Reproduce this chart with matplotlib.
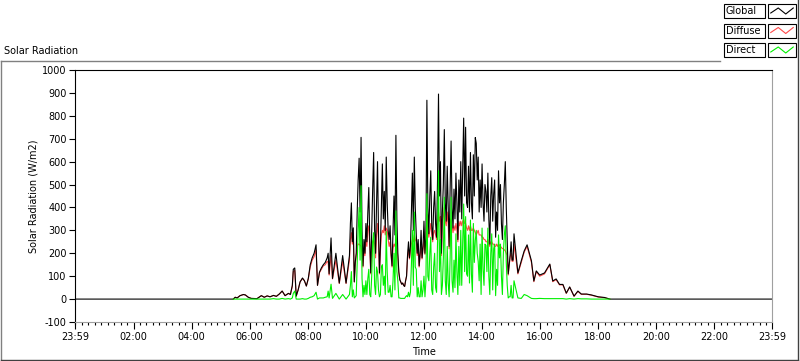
import matplotlib.pyplot as plt
from matplotlib.patches import Rectangle
from matplotlib.ticker import FixedLocator, MultipleLocator
from matplotlib.lines import Line2D

plt.rcParams["axes.unicode_minus"] = False

# --- readings taken from the chart (W/m2), split in three parts of the day ---
# night + morning (direct sensor only logs during the day -> None at night)
morning_t = ["00:00", "05:26", "05:30", "05:34", "05:40", "05:47", "05:51", "05:57", "06:03", "06:15",
             "06:24", "06:30", "06:36", "06:42", "06:49", "06:55", "07:01", "07:07", "07:13", "07:20",
             "07:24", "07:28", "07:30", "07:33", "07:36", "07:40", "07:44", "07:49", "07:53", "07:57",
             "08:01", "08:05", "08:09", "08:13", "08:17", "08:20", "08:24", "08:28", "08:32", "08:36",
             "08:40", "08:42", "08:44", "08:48", "08:51", "08:58", "09:05", "09:12", "09:19"]
morning_global = [0, 0, 8, 5, 15, 20, 18, 8, 3, 2,
                  15, 8, 14, 10, 16, 12, 22, 35, 15, 25,
                  20, 60, 130, 136, 13, 40, 75, 92, 80, 57,
                  90, 150, 180, 200, 237, 60, 117, 136, 150, 160,
                  180, 200, 110, 267, 90, 200, 70, 190, 70]
morning_diffuse = [None, 0, 8, 5, 15, 20, 18, 8, 3, 2,
                   15, 8, 14, 10, 16, 12, 22, 35, 15, 25,
                   20, 55, 120, 125, 13, 40, 75, 90, 80, 57,
                   88, 140, 170, 185, 215, 60, 115, 130, 145, 150,
                   165, 160, 105, 190, 88, 170, 68, 165, 68]
morning_direct = [None, 0, 0, 0, 0, 0, 0, 0, 0, 0,
                  0, 0, 0, 0, 2, 0, 0, 3, 0, 2,
                  0, 5, 25, 35, 0, 0, 0, 2, 0, 0,
                  3, 8, 10, 15, 30, 0, 5, 5, 5, 8,
                  10, 35, 5, 65, 3, 25, 0, 20, 0]

# broken cloud period, every two minutes from 09:26 to 15:06
midday_t = ["%02d:%02d" % divmod(m, 60) for m in range(566, 907, 2)]
midday_global = [190, 330, 420, 250, 311, 75, 160, 200, 380, 520,
                 615, 380, 706, 300, 145, 260, 200, 330, 250, 380,
                 487, 250, 115, 300, 480, 640, 300, 200, 420, 600,
                 300, 115, 230, 420, 590, 350, 470, 300, 620, 420,
                 300, 260, 320, 200, 145, 300, 450, 280, 715, 350,
                 200, 120, 85, 75, 65, 70, 60, 55, 80, 100,
                 190, 250, 180, 230, 380, 550, 300, 620, 400, 285,
                 200, 260, 145, 200, 300, 180, 230, 340, 200, 265,
                 868, 400, 285, 450, 560, 320, 260, 400, 470, 330,
                 270, 520, 895, 450, 600, 200, 380, 500, 740, 420,
                 340, 580, 400, 230, 480, 690, 400, 310, 480, 350,
                 550, 420, 260, 520, 380, 600, 350, 560, 790, 450,
                 750, 420, 400, 580, 380, 640, 420, 350, 630, 450,
                 705, 680, 520, 620, 380, 520, 400, 590, 420, 340,
                 500, 470, 380, 550, 350, 240, 450, 530, 340, 460,
                 520, 270, 380, 300, 560, 420, 500, 330, 260, 420,
                 500, 600, 400, 250, 110, 150, 190, 250, 170, 170,
                 285]
midday_diffuse = [170, 260, 290, 240, 280, 75, 150, 190, 230, 240,
                  240, 235, 230, 200, 140, 210, 190, 260, 230, 300,
                  320, 230, 110, 220, 250, 260, 240, 180, 280, 330,
                  260, 110, 210, 280, 300, 290, 320, 280, 310, 300,
                  260, 230, 250, 190, 140, 220, 240, 230, 260, 230,
                  180, 115, 85, 75, 65, 70, 60, 55, 80, 100,
                  180, 220, 175, 210, 240, 260, 250, 280, 260, 250,
                  190, 220, 140, 190, 230, 175, 220, 260, 195, 255,
                  370, 300, 270, 300, 330, 280, 250, 290, 300, 280,
                  260, 330, 380, 340, 360, 190, 340, 360, 400, 340,
                  320, 380, 330, 220, 330, 350, 320, 290, 320, 300,
                  330, 300, 250, 340, 320, 340, 320, 340, 350, 330,
                  330, 310, 300, 320, 300, 320, 300, 300, 310, 300,
                  290, 280, 290, 300, 280, 280, 280, 270, 270, 260,
                  260, 250, 250, 260, 240, 230, 250, 250, 240, 240,
                  230, 230, 240, 230, 240, 235, 230, 225, 220, 220,
                  215, 210, 200, 190, 105, 145, 185, 200, 165, 165,
                  240]
midday_direct = [20, 60, 120, 10, 40, 5, 10, 15, 160, 300,
                 400, 170, 495, 90, 10, 60, 20, 80, 20, 90,
                 130, 20, 10, 100, 250, 290, 60, 20, 140, 120,
                 40, 10, 20, 140, 150, 60, 100, 20, 295, 120,
                 30, 30, 60, 10, 10, 80, 200, 40, 385, 120,
                 80, 5, 5, 3, 3, 3, 3, 3, 10, 15,
                 10, 30, 10, 30, 150, 300, 60, 380, 140, 130,
                 10, 50, 10, 10, 80, 10, 40, 100, 10, 80,
                 460, 100, 80, 200, 270, 40, 20, 140, 200, 50,
                 30, 250, 560, 120, 260, 20, 60, 180, 445, 80,
                 20, 230, 70, 10, 180, 445, 80, 30, 170, 50,
                 285, 120, 20, 230, 60, 300, 60, 250, 415, 120,
                 360, 110, 100, 280, 70, 345, 110, 30, 330, 160,
                 255, 300, 200, 165, 80, 240, 20, 310, 130, 60,
                 240, 235, 120, 310, 100, 20, 200, 285, 40, 220,
                 240, 15, 130, 60, 280, 180, 240, 100, 20, 200,
                 280, 320, 160, 60, 5, 10, 10, 60, 5, 5,
                 80]

# afternoon + night
evening_t = ["15:14", "15:21", "15:27", "15:33", "15:42", "15:47", "15:52", "15:59", "16:09", "16:20",
             "16:26", "16:33", "16:40", "16:47", "16:54", "17:01", "17:10", "17:18", "17:25", "17:36",
             "17:46", "18:00", "18:13", "18:24", "23:59"]
evening_global = [114, 167, 210, 237, 167, 79, 123, 105, 114, 153,
                  79, 88, 64, 64, 26, 53, 13, 35, 22, 22,
                  18, 10, 7, 0, 0]
evening_diffuse = [110, 160, 205, 230, 160, 76, 120, 100, 110, 150,
                   76, 85, 62, 62, 25, 52, 12, 34, 21, 21,
                   17, 9, 6, 0, None]
evening_direct = [5, 3, 20, 15, 3, 2, 2, 3, 2, 2,
                  2, 2, 2, 2, 0, 2, 0, 2, 1, 1,
                  0, 0, 0, 0, None]

times = morning_t + midday_t + evening_t
global_rad = morning_global + midday_global + evening_global
diffuse_rad = morning_diffuse + midday_diffuse + evening_diffuse
direct_rad = morning_direct + midday_direct + evening_direct

# drawing order: diffuse under global, direct on top
series = [
    ("Diffuse", diffuse_rad, "#ff4848"),
    ("Global", global_rad, "#000000"),
    ("Direct", direct_rad, "#00f000"),
]
legend_order = ["Global", "Diffuse", "Direct"]

W, H = 800, 361


def fx(x):
    return x / W


def fy(y):
    return 1 - y / H


def to_hours(s):
    h, m = s.split(":")
    return int(h) + int(m) / 60


hours = [to_hours(t) for t in times]

fig = plt.figure(figsize=(W / 100, H / 100), dpi=100)
fig.patch.set_facecolor("white")

ax = fig.add_axes([fx(75), fy(322), fx(772) - fx(75), fy(70) - fy(322)])
for name, vals, col in series:
    ax.plot(hours, [float("nan") if v is None else v for v in vals], color=col, lw=0.8)

ax.set_xlim(-1 / 60, 24 - 1 / 60)
ax.set_ylim(-100, 1000)
ax.set_yticks(range(-100, 1001, 100))
major = [-1 / 60] + list(range(2, 23, 2)) + [24 - 1 / 60]
ax.xaxis.set_major_locator(FixedLocator(major))
ax.set_xticklabels(["23:59"] + ["%02d:00" % h for h in range(2, 23, 2)] + ["23:59"])
ax.xaxis.set_minor_locator(MultipleLocator(2 / 9))
ax.tick_params(axis="both", labelsize=7, width=0.8, color="black", pad=2)
ax.tick_params(axis="x", which="major", length=5)
ax.tick_params(axis="x", which="minor", length=2.5, width=0.8)
ax.tick_params(axis="y", length=4)
ax.spines["left"].set_color("black")
ax.spines["top"].set_color("black")
ax.spines["right"].set_color("#a0a0a0")
ax.spines["bottom"].set_color("#a0a0a0")
for s in ax.spines.values():
    s.set_linewidth(0.8)

fig.text(fx(33), fy(196), "Solar Radiation (W/m2)", rotation=90,
         ha="center", va="center", fontsize=7)
fig.text(fx(424), fy(352), "Time", ha="center", va="center", fontsize=7)
fig.text(fx(4), fy(51), "Solar Radiation", ha="left", va="center", fontsize=7)

# outer frame of the graph
fig.add_artist(Line2D([fx(0.5), fx(0.5)], [fy(61), fy(360)], color="#808080", lw=1))
fig.add_artist(Line2D([fx(0.5), fx(720)], [fy(61), fy(61)], color="#808080", lw=1))
fig.add_artist(Line2D([fx(798), fx(798)], [fy(0), fy(360)], color="#404040", lw=1))
fig.add_artist(Line2D([fx(0.5), fx(798)], [fy(360), fy(360)], color="#404040", lw=1))

# legend: boxed names with a small sample line
colors = {name: col for name, _, col in series}
for i, name in enumerate(legend_order):
    y0 = 4 + i * 19.5
    fig.add_artist(Rectangle((fx(724), fy(y0 + 14)), fx(41), 14 / H,
                             facecolor="white", edgecolor="black", lw=0.8))
    fig.text(fx(726), fy(y0 + 7), name, ha="left", va="center", fontsize=7)
    fig.add_artist(Rectangle((fx(768), fy(y0 + 14)), fx(28), 14 / H,
                             facecolor="white", edgecolor="black", lw=0.8))
    sa = fig.add_axes([fx(770), fy(y0 + 12), fx(24), 10 / H])
    sa.set_zorder(5)
    sa.patch.set_alpha(0)
    sa.plot([0, 1, 2, 3], [0.3, 0.8, 0.2, 0.8], color=colors[name], lw=0.8)
    sa.set_xlim(-0.1, 3.1)
    sa.set_ylim(0, 1)
    sa.axis("off")

fig.savefig("out.png", dpi=100)
